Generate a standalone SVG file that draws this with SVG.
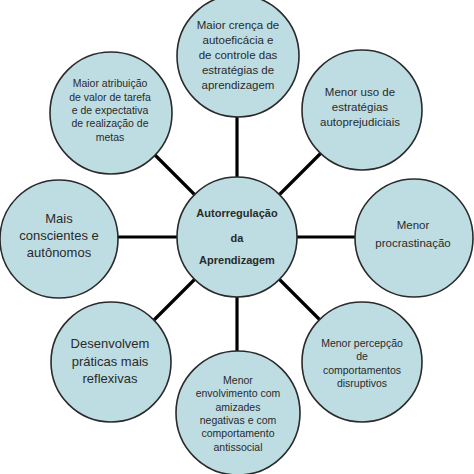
<svg xmlns="http://www.w3.org/2000/svg" width="474" height="474" viewBox="0 0 474 474">
<style>
.n{fill:#BEDDE2;stroke:#2a2a2a;stroke-width:1.6}
.t{font-family:"Liberation Sans",Arial,sans-serif;fill:#2a2a2a;text-anchor:middle}
.s{font-size:10.5px}
.m{font-size:11.5px}
.l{font-size:13px}
.b{font-size:11px;font-weight:bold}
.c{stroke:#000;stroke-width:3.2;fill:none}
</style>
<rect width="474" height="474" fill="#fff"/>
<g id="connectors">
<line class="c" x1="237" y1="237" x2="237" y2="60"/>
<line class="c" x1="237" y1="237" x2="362" y2="112"/>
<line class="c" x1="237" y1="237" x2="414" y2="237"/>
<line class="c" x1="237" y1="237" x2="362" y2="362"/>
<line class="c" x1="237" y1="237" x2="237" y2="414"/>
<line class="c" x1="237" y1="237" x2="112" y2="362"/>
<line class="c" x1="237" y1="237" x2="60" y2="237"/>
<line class="c" x1="237" y1="237" x2="112" y2="112"/>
</g>
<g id="center">
<circle class="n" cx="237" cy="237" r="60"/>
<text class="t b" x="237" y="217">Autorregulação</text>
<text class="t b" x="237" y="242">da</text>
<text class="t b" x="237" y="264">Aprendizagem</text>
</g>
<g id="top">
<circle class="n" cx="238" cy="56" r="61"/>
<text class="t m" x="238" y="29">Maior crença de</text>
<text class="t m" x="238" y="44">autoeficácia e</text>
<text class="t m" x="238" y="59">de controle das</text>
<text class="t m" x="238" y="74">estratégias de</text>
<text class="t m" x="238" y="89">aprendizagem</text>
</g>
<g id="top-right">
<circle class="n" cx="362" cy="110" r="60"/>
<text class="t m" x="360" y="96">Menor uso de</text>
<text class="t m" x="360" y="111">estratégias</text>
<text class="t m" x="360" y="126">autoprejudiciais</text>
</g>
<g id="right">
<circle class="n" cx="414" cy="238" r="59"/>
<text class="t m" x="413" y="229">Menor</text>
<text class="t m" x="413" y="247">procrastinação</text>
</g>
<g id="bottom-right">
<circle class="n" cx="362" cy="362" r="60"/>
<text class="t s" x="362" y="347">Menor percepção</text>
<text class="t s" x="362" y="360">de</text>
<text class="t s" x="362" y="374">comportamentos</text>
<text class="t s" x="362" y="387">disruptivos</text>
</g>
<g id="bottom">
<circle class="n" cx="238" cy="413" r="62"/>
<text class="t s" x="238" y="384">Menor</text>
<text class="t s" x="238" y="397">envolvimento com</text>
<text class="t s" x="238" y="411">amizades</text>
<text class="t s" x="238" y="424">negativas e com</text>
<text class="t s" x="238" y="437">comportamento</text>
<text class="t s" x="238" y="451">antissocial</text>
</g>
<g id="bottom-left">
<circle class="n" cx="111" cy="362" r="60"/>
<text class="t l" x="110" y="348">Desenvolvem</text>
<text class="t l" x="110" y="366">práticas mais</text>
<text class="t l" x="110" y="383">reflexivas</text>
</g>
<g id="left">
<circle class="n" cx="59" cy="239" r="59"/>
<text class="t l" x="59" y="223">Mais</text>
<text class="t l" x="59" y="240">conscientes e</text>
<text class="t l" x="59" y="257">autônomos</text>
</g>
<g id="top-left">
<circle class="n" cx="111" cy="113" r="61"/>
<text class="t s" x="110" y="87">Maior atribuição</text>
<text class="t s" x="110" y="101">de valor de tarefa</text>
<text class="t s" x="110" y="114">e de expectativa</text>
<text class="t s" x="110" y="127">de realização de</text>
<text class="t s" x="110" y="141">metas</text>
</g>
</svg>
